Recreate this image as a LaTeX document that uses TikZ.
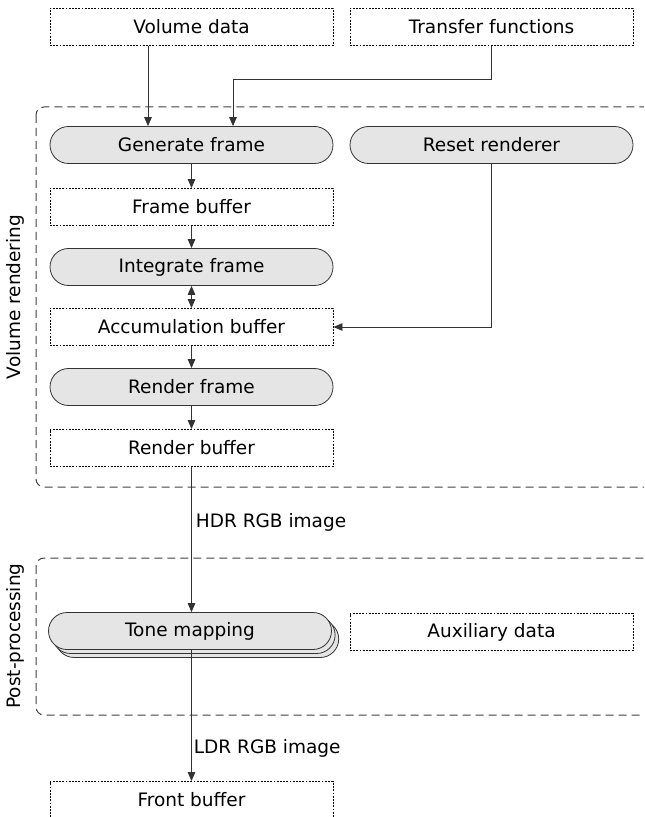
\documentclass[tikz,border=0pt]{standalone}
\usepackage{fontspec}
\setmainfont{DejaVu Sans}
\usetikzlibrary{arrows.meta,shapes.misc,shadows}

\begin{document}
\begin{tikzpicture}[x=0.5pt,y=-0.5pt,
  every node/.style={font=\fontsize{9.25}{11}\selectfont},
  bufbox/.style={draw=black,line width=0.45pt,dash pattern=on 0.9pt off 0.7pt,minimum width=141.5pt,minimum height=18.5pt,inner sep=0pt},
  procbox/.style={rounded rectangle,draw=black!80,fill=gray!20,minimum width=141.5pt,minimum height=18.5pt,inner sep=0pt},
  groupbox/.style={draw=black!75,line width=0.5pt,dash pattern=on 4pt off 2.5pt,rounded corners=4pt},
  flow/.style={draw=black!80,-{Triangle[length=4.5pt,width=3.8pt]}},
  grouplabel/.style={rotate=90,anchor=center}]
\path[use as bounding box,clip] (0,0) rectangle (644,817);
% groups
\draw[groupbox] (36,107) rectangle (660,487);
\draw[groupbox] (36,558) rectangle (660,715);
\node[grouplabel] (lvol) at (15,297) {Volume rendering};
\node[grouplabel] (lpost) at (15,636) {Post-processing};
% inputs
\node[bufbox] (vol) at (191.5,27) {Volume data};
\node[bufbox] (tf) at (491.5,27) {Transfer functions};
% volume rendering
\node[procbox] (gen) at (191.5,145) {Generate frame};
\node[procbox] (reset) at (491.5,145) {Reset renderer};
\node[bufbox] (fbuf) at (191.5,207) {Frame buffer};
\node[procbox] (integ) at (191.5,267) {Integrate frame};
\node[bufbox] (acc) at (191.5,327) {Accumulation buffer};
\node[procbox] (rend) at (191.5,387) {Render frame};
\node[bufbox] (rbuf) at (191.5,448) {Render buffer};
% post-processing
\node[procbox,double copy shadow={shadow xshift=1.8pt,shadow yshift=-2pt,fill=gray!20,draw=black!80}] (tone) at (190,631) {Tone mapping};
\node[bufbox] (aux) at (491.5,632) {Auxiliary data};
\node[bufbox] (front) at (191.5,800) {Front buffer};
% connectors
\draw[flow] ([xshift=-21.75pt]vol.south) -- ([xshift=-21.75pt]gen.north);
\draw[flow] (tf.south) -- ++(0,33) -| ([xshift=20.75pt]gen.north);
\draw[flow] (gen) -- (fbuf);
\draw[flow] (fbuf) -- (integ);
\draw[flow,{Triangle[length=4.5pt,width=3.8pt]}-{Triangle[length=4.5pt,width=3.8pt]}] (integ) -- (acc);
\draw[flow] (reset.south) |- (acc.east);
\draw[flow] (acc) -- (rend);
\draw[flow] (rend) -- (rbuf);
\draw[flow] (rbuf.south) -- node[pos=0.38,right,inner sep=2pt] (hdr) {HDR RGB image} (rbuf.south |- tone.north);
\draw[flow] (rbuf.south |- tone.south) -- node[pos=0.75,right,inner sep=1pt] (ldr) {LDR RGB image} (front.north);
\end{tikzpicture}
\end{document}
